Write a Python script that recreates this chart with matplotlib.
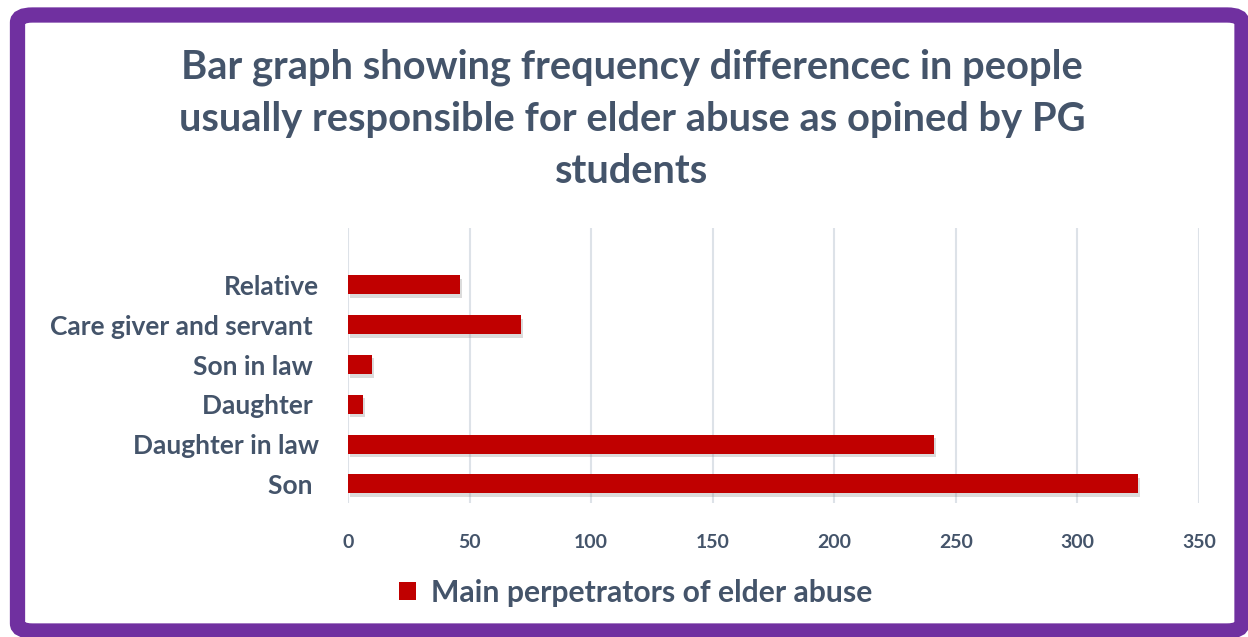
import matplotlib.pyplot as plt
import matplotlib.patheffects as pe
from matplotlib.patches import FancyBboxPatch, Patch

# data (bottom to top)
categories = ['Son ', 'Daughter in law', 'Daughter ', 'Son in law ',
              'Care giver and servant ', 'Relative']
values = [325, 241, 6, 10, 71, 46]
xticks = [0, 50, 100, 150, 200, 250, 300, 350]

text_col = '#44546A'
bar_col = '#C00000'
grid_col = '#DDE2E8'
font = ['Lato', 'DejaVu Sans']

fig = plt.figure(figsize=(12.48, 6.37), dpi=100, facecolor='white')
W, H = 1248, 637

# purple rounded border
border = FancyBboxPatch((17.5 / W, 6 / H), 1224.5 / W, 616 / H,
                        boxstyle='round,pad=0,rounding_size=0.012',
                        transform=fig.transFigure, facecolor='none',
                        edgecolor='#7030A0', linewidth=11.0, zorder=5)
fig.patches.append(border)

ax = fig.add_axes([348 / W, 1 - 503 / H, 851 / W, 275 / H])
pos = list(range(len(categories)))
bars = ax.barh(pos, values, height=0.48, color=bar_col, zorder=3)
for b in bars:
    b.set_path_effects([pe.SimplePatchShadow(offset=(1.5, -2.5), shadow_rgbFace='#888888', alpha=0.3),
                        pe.Normal()])

ax.set_xlim(0, 350)
ax.set_ylim(-0.48, 6.43)
ax.set_xticks(xticks)
ax.set_xticklabels([str(t) for t in xticks], fontsize=14, fontweight='bold',
                   color=text_col, family=font)
ax.set_yticks(pos)
ax.set_yticklabels(categories, fontsize=19, fontweight='bold', color=text_col, family=font)
ax.tick_params(length=0)
ax.tick_params(axis='x', pad=22)
ax.tick_params(axis='y', pad=21)
ax.grid(axis='x', color=grid_col, linewidth=1.5, zorder=0)
for s in ax.spines.values():
    s.set_visible(False)
ax.patch.set_alpha(0)

fig.text(632 / W, 1 - 119 / H,
         'Bar graph showing frequency differencec in people\n'
         'usually responsible for elder abuse as opined by PG\nstudents',
         ha='center', va='center', fontsize=28.7, fontweight='bold',
         color=text_col, family=font, linespacing=1.5)

# legend
handle = Patch(facecolor=bar_col, edgecolor='none')
leg = ax.legend([handle], ['Main perpetrators of elder abuse'],
                loc='center', bbox_to_anchor=(636 / W, 1 - 593 / H),
                bbox_transform=fig.transFigure, frameon=False,
                handlelength=0.55, handleheight=0.55, handletextpad=0.5,
                prop={'family': font, 'weight': 'bold', 'size': 21.7})
for t in leg.get_texts():
    t.set_color(text_col)

fig.savefig('out.png', dpi=100)
